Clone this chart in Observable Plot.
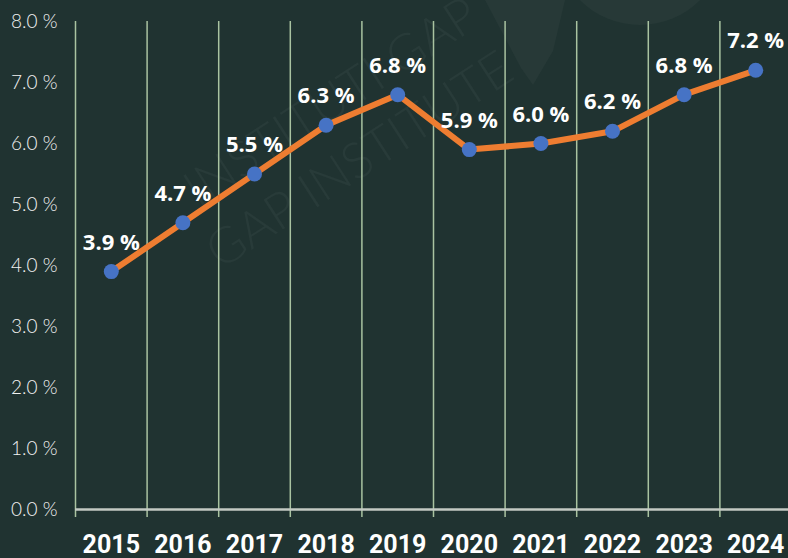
<!DOCTYPE html>
<html>
<head>
<meta charset="utf-8">
<script src="https://cdn.jsdelivr.net/npm/d3@7"></script>
<script src="https://cdn.jsdelivr.net/npm/@observablehq/plot@0.6"></script>
<style>
  html, body { margin: 0; padding: 0; background: #203331; }
  #wrap { position: relative; width: 788px; height: 558px; overflow: hidden; background: #203331; }
  .wm { position: absolute; font-family: "Lato", "Open Sans", sans-serif; font-weight: 300; font-size: 50px;
        color: rgba(255,255,255,0.04); white-space: nowrap; transform-origin: center; }
  .blob { position: absolute; background: rgba(255,255,255,0.03); }
  #chart { position: absolute; left: 0; top: 0; }
</style>
</head>
<body>
<div id="wrap">
  <div class="blob" style="left:555px; top:-145px; width:170px; height:170px; border-radius:50%;"></div>
  <div class="blob" style="left:485px; top:0px; width:80px; height:85px; clip-path: polygon(0% 0%, 100% 0%, 85% 60%, 60% 100%, 45% 80%);"></div>
  <div class="wm" style="left:330px; top:100px; transform: translate(-50%,-50%) rotate(-33deg);">INSTITUTI GAP</div>
  <div class="wm" style="left:358px; top:158px; transform: translate(-50%,-50%) rotate(-33deg);">GAP INSTITUTE</div>
  <div id="chart"></div>
</div>
<script>
const years = [2015, 2016, 2017, 2018, 2019, 2020, 2021, 2022, 2023, 2024];
const values = [3.9, 4.7, 5.5, 6.3, 6.8, 5.9, 6.0, 6.2, 6.8, 7.2];
const yTicks = [0, 1, 2, 3, 4, 5, 6, 7, 8];

const data = years.map((y, i) => ({year: y, value: values[i]}));
const boundaries = years.map(y => y - 0.5);

const chart = Plot.plot({
  width: 788,
  height: 558,
  marginTop: 21,
  marginBottom: 49,
  marginLeft: 75,
  marginRight: -3,
  style: {background: "transparent", color: "white", overflow: "visible"},
  x: {type: "linear", domain: [years[0] - 0.5, years[years.length - 1] + 0.5]},
  y: {domain: [0, 8]},
  marks: [
    Plot.ruleX(boundaries, {stroke: "#a9c3a1", strokeWidth: 1.5, insetBottom: -8}),
    Plot.ruleY([0], {stroke: "#c3cac3", strokeWidth: 2.5}),
    Plot.axisY({
      ticks: yTicks, tickSize: 0, tickPadding: 18,
      tickFormat: d => d.toFixed(1) + " %",
      fontSize: 19, fontFamily: "Lato, 'Open Sans', sans-serif", fontWeight: 300,
      fill: "#f2f2f2", label: null
    }),
    Plot.axisX({
      ticks: years, tickSize: 0, tickPadding: 26,
      tickFormat: d => String(d),
      fontSize: 25, fontWeight: "bold",
      fontFamily: "Roboto, sans-serif",
      fill: "white", label: null
    }),
    Plot.line(data, {x: "year", y: "value", stroke: "#ee7d31", strokeWidth: 6, strokeLinejoin: "round"}),
    Plot.dot(data, {x: "year", y: "value", r: 7.5, fill: "#4673c5", stroke: null}),
    Plot.text(data, {
      x: "year", y: "value", dy: -29,
      text: d => d.value.toFixed(1) + " %",
      fill: "white", fontSize: 22, fontWeight: "bold",
      fontFamily: "'Open Sans', Roboto, sans-serif"
    })
  ]
});
document.getElementById("chart").appendChild(chart);
</script>
</body>
</html>
